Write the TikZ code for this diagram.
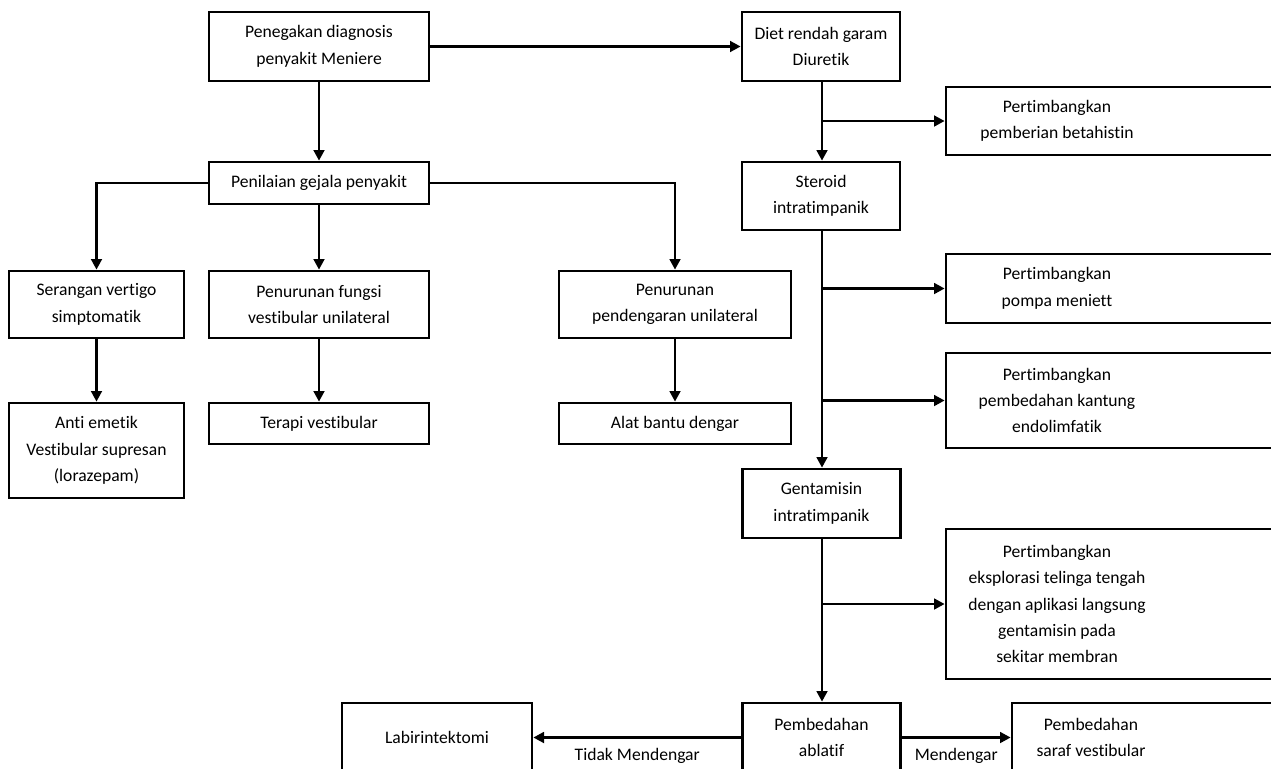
\documentclass[tikz,border=0pt]{standalone}
\usepackage{fontspec}
\setmainfont{Carlito}[Ligatures=NoCommon]
\usetikzlibrary{arrows.meta}

\tikzset{every picture/.style={line width=2pt}}
\tikzset{
  flowbox/.style={draw, line width=2, align=center, inner sep=0.75pt, font=\fontsize{13.2}{19.8}\selectfont},
  txt/.style={align=center, inner sep=0.75pt, font=\fontsize{13.2}{19.8}\selectfont},
  arr/.style={-{Triangle[length=8pt,width=8pt]}, line width=2},
}

\begin{document}
\begin{tikzpicture}[x=0.75pt,y=0.75pt,yscale=-1,xscale=1]
%set diagram to the size of the original page
\clip (0,0) rectangle (1271,768);

% left part
\node[flowbox, minimum width=165pt, minimum height=51.75pt] (diag) at (319,46.5) {Penegakan diagnosis\\penyakit Meniere};
\node[flowbox, minimum width=165pt, minimum height=31.5pt] (nilai) at (319,183) {Penilaian gejala penyakit};
\node[flowbox, minimum width=131.25pt, minimum height=50.25pt] (vert) at (96.5,304.5) {Serangan vertigo\\simptomatik};
\node[flowbox, minimum width=165pt, minimum height=50.25pt] (fungsi) at (319,304.5) {Penurunan fungsi\\vestibular unilateral};
\node[flowbox, minimum width=174pt, minimum height=50.25pt] (dengar) at (675,304.5) {Penurunan\\pendengaran unilateral};
\node[flowbox, minimum width=131.25pt, minimum height=71.25pt] (emetik) at (96.5,450.5) {Anti emetik\\Vestibular supresan\\(lorazepam)};
\node[flowbox, minimum width=165pt, minimum height=30.75pt] (terapi) at (319,423.5) {Terapi vestibular};
\node[flowbox, minimum width=174pt, minimum height=30.75pt] (alat) at (675,423.5) {Alat bantu dengar};

% middle column
\node[flowbox, minimum width=118.5pt, minimum height=51.75pt] (diet) at (821,46.5) {Diet rendah garam\\Diuretik};
\node[flowbox, minimum width=118.5pt, minimum height=51pt] (steroid) at (821,196) {Steroid\\intratimpanik};
\node[flowbox, minimum width=118.5pt, minimum height=51.75pt] (genta) at (821.5,503.5) {Gentamisin\\intratimpanik};
\node[flowbox, minimum width=118.5pt, minimum height=51.75pt] (ablatif) at (821.5,737.5) {Pembedahan\\ablatif};
\node[flowbox, minimum width=142.5pt, minimum height=51.75pt] (labir) at (437,737.5) {Labirintektomi};

% right column, boxes run past the page edge
\node[flowbox, minimum width=265.5pt, minimum height=51pt] (beta) at (1123,121) {};
\node[txt] (betaT) at (1057,121) {Pertimbangkan\\pemberian betahistin};
\node[flowbox, minimum width=265.5pt, minimum height=51.75pt] (pompa) at (1123,288.5) {};
\node[txt] (pompaT) at (1057,288.5) {Pertimbangkan\\pompa meniett};
\node[flowbox, minimum width=265.5pt, minimum height=71.25pt] (kantung) at (1123,400.5) {};
\node[txt] (kantungT) at (1057,400.5) {Pertimbangkan\\pembedahan kantung\\endolimfatik};
\node[flowbox, minimum width=265.5pt, minimum height=112.5pt] (eksp) at (1123,604) {};
\node[txt] (ekspT) at (1057,604) {Pertimbangkan\\eksplorasi telinga tengah\\dengan aplikasi langsung\\gentamisin pada\\sekitar membran};
\node[flowbox, minimum width=216pt, minimum height=51.75pt] (saraf) at (1156,737.5) {};
\node[txt] (sarafT) at (1091,737.5) {Pembedahan\\saraf vestibular};

% branch points
\coordinate (brBeta) at (822,121);
\coordinate (brPompa) at (822,288.5);
\coordinate (brKantung) at (822,400.5);
\coordinate (brEksp) at (822,604);

% connectors
\draw[arr] (diag) -- (diet);
\draw[arr] (diag) -- (nilai);
\draw[arr] (nilai.west) -| (vert.north);
\draw[arr] (nilai) -- (fungsi);
\draw[arr] (nilai.east) -| (dengar.north);
\draw[arr] (vert) -- (emetik);
\draw[arr] (fungsi) -- (terapi);
\draw[arr] (dengar) -- (alat);

\draw[arr] (diet.south -| brBeta) -- (steroid.north -| brBeta);
\draw[arr] (brBeta) -- (beta.west |- brBeta);
\draw[arr] (steroid.south -| brPompa) -- (genta.north -| brPompa);
\draw[arr] (brPompa) -- (pompa.west |- brPompa);
\draw[arr] (brKantung) -- (kantung.west |- brKantung);
\draw[arr] (genta.south -| brEksp) -- (ablatif.north -| brEksp);
\draw[arr] (brEksp) -- (eksp.west |- brEksp);

\draw[arr] (ablatif) -- node[txt, below=6.5pt] (ya) {Mendengar} (saraf.west |- ablatif);
\draw[arr] (ablatif) -- node[txt, below=6.5pt] (tidak) {Tidak Mendengar} (labir);

\end{tikzpicture}
\end{document}
